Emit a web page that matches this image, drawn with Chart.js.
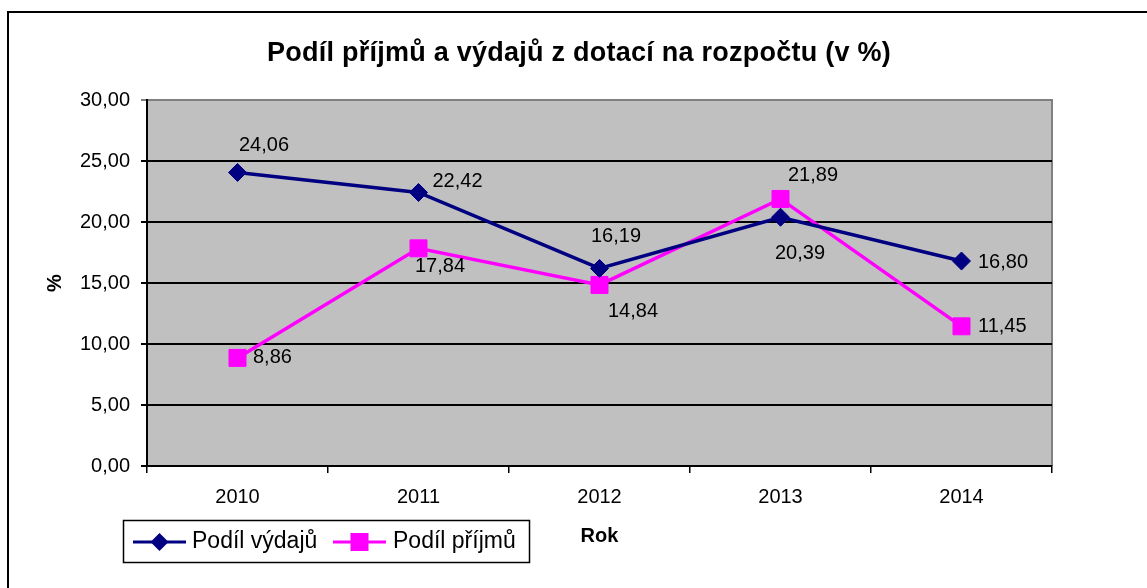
<!DOCTYPE html>
<html><head><meta charset="utf-8">
<script src="https://cdn.jsdelivr.net/npm/chart.js@4/dist/chart.umd.min.js"></script>
<style>html,body{margin:0;padding:0;background:#fff;overflow:hidden}canvas{display:block}</style>
</head><body>
<canvas id="c" width="1147" height="588"></canvas>
<script>
const chartTitle = 'Podíl příjmů a výdajů z dotací na rozpočtu (v %)';
const categories = ['2010', '2011', '2012', '2013', '2014'];
const seriesNames = ['Podíl výdajů', 'Podíl příjmů'];
const vydaje = [24.06, 22.42, 16.19, 20.39, 16.80];
const prijmy = [8.86, 17.84, 14.84, 21.89, 11.45];
const yTickLabels = ['0,00', '5,00', '10,00', '15,00', '20,00', '25,00', '30,00'];
const xAxisTitle = 'Rok';
const yAxisTitle = '%';

// data label placement (style): [dx to left edge of text, dy to text middle]
const labelOffsets = [
  [[1.5, -27], [14, -11], [-8.5, -31.5], [-5.5, 36], [16.5, 1]],
  [[15.5, 0], [-3.5, 18], [8.5, 27], [7.5, -23], [16.5, 0]]
];
const FONT = "'Liberation Sans', Arial, sans-serif";
Chart.defaults.font.family = FONT;
Chart.defaults.color = '#000';

const fmt = v => v.toFixed(2).replace('.', ',');

const decor = {
  id: 'decor',
  beforeDraw(chart) {
    const {ctx, chartArea: a} = chart;
    ctx.save();
    ctx.fillStyle = '#fff';
    ctx.fillRect(0, 0, chart.width, chart.height);
    ctx.fillStyle = '#C0C0C0';
    ctx.fillRect(a.left, a.top, a.right - a.left, a.bottom - a.top);
    ctx.strokeStyle = '#808080';
    ctx.lineWidth = 2;
    ctx.beginPath();
    ctx.moveTo(a.left, a.top);
    ctx.lineTo(a.right, a.top);
    ctx.lineTo(a.right, a.bottom);
    ctx.stroke();
    ctx.restore();
  },
  afterDatasetsDraw(chart) {
    const ctx = chart.ctx;
    ctx.save();
    ctx.font = '20px ' + FONT;
    ctx.fillStyle = '#000';
    ctx.textAlign = 'left';
    ctx.textBaseline = 'middle';
    chart.data.datasets.forEach((ds, di) => {
      const meta = chart.getDatasetMeta(di);
      meta.data.forEach((pt, i) => {
        const [dx, dy] = labelOffsets[di][i];
        ctx.fillText(fmt(ds.data[i]), pt.x + dx, pt.y + dy);
      });
    });
    ctx.restore();
  },
  afterDraw(chart) {
    const ctx = chart.ctx;
    ctx.save();
    // outer border
    ctx.strokeStyle = '#000';
    ctx.lineWidth = 2;
    ctx.strokeRect(8, 12, 1300, 800);
    // title
    ctx.font = 'bold 27px ' + FONT;
    ctx.letterSpacing = '0.25px';
    ctx.textAlign = 'center';
    ctx.textBaseline = 'alphabetic';
    ctx.fillStyle = '#000';
    ctx.fillText(chartTitle, 579, 61);
    ctx.letterSpacing = '0px';
    // legend
    ctx.lineWidth = 1.5;
    ctx.strokeStyle = '#000';
    ctx.strokeRect(123.5, 520.5, 406, 42);
    const items = [
      {x0: 133, x1: 186, color: '#000080', shape: 'diamond', tx: 192},
      {x0: 333, x1: 386, color: '#FF00FF', shape: 'square', tx: 393}
    ];
    const ly = 542;
    items.forEach((it, k) => {
      ctx.strokeStyle = it.color;
      ctx.fillStyle = it.color;
      ctx.lineWidth = 3;
      ctx.beginPath();
      ctx.moveTo(it.x0, ly);
      ctx.lineTo(it.x1, ly);
      ctx.stroke();
      const cx = (it.x0 + it.x1) / 2;
      ctx.beginPath();
      if (it.shape === 'diamond') {
        ctx.moveTo(cx - 9, ly); ctx.lineTo(cx, ly - 9); ctx.lineTo(cx + 9, ly); ctx.lineTo(cx, ly + 9);
        ctx.closePath();
      } else {
        ctx.rect(cx - 9, ly - 9, 18, 18);
      }
      ctx.fill();
      ctx.fillStyle = '#000';
      ctx.font = '23px ' + FONT;
      ctx.textAlign = 'left';
      ctx.textBaseline = 'alphabetic';
      ctx.fillText(seriesNames[k], it.tx, 548);
    });
    ctx.restore();
  }
};

new Chart(document.getElementById('c'), {
  type: 'line',
  data: {
    labels: categories,
    datasets: [
      {
        label: seriesNames[0], data: vydaje,
        borderColor: '#000080', backgroundColor: '#000080',
        borderWidth: 3.5, tension: 0,
        pointStyle: 'rectRot', pointRadius: 9, pointBorderWidth: 1,
        pointBackgroundColor: '#000080', pointBorderColor: '#000080'
      },
      {
        label: seriesNames[1], data: prijmy,
        borderColor: '#FF00FF', backgroundColor: '#FF00FF',
        borderWidth: 3.5, tension: 0,
        pointStyle: 'rect', pointRadius: 12, pointBorderWidth: 1,
        pointBackgroundColor: '#FF00FF', pointBorderColor: '#FF00FF'
      }
    ]
  },
  options: {
    responsive: false,
    animation: false,
    devicePixelRatio: 1,
    layout: {padding: {left: 9, right: 95, top: 100, bottom: 0}},
    plugins: {
      legend: {display: false},
      title: {display: false},
      tooltip: {enabled: false}
    },
    scales: {
      x: {
        type: 'category',
        offset: true,
        grid: {display: true, drawOnChartArea: false, drawTicks: true, tickLength: 7, color: '#000', lineWidth: 1.5, offset: true},
        border: {color: '#000', width: 2},
        ticks: {color: '#000', font: {size: 20}, padding: 12, maxRotation: 0, autoSkip: false},
        title: {display: true, text: xAxisTitle, color: '#000', font: {size: 20, weight: 'bold'}, padding: {top: 0, bottom: 40}},
        afterFit(s) { s.height = 122; }
      },
      y: {
        min: 0, max: 30,
        grid: {
          color: c => (c.tick && c.tick.value === 30) ? '#808080' : '#000',
          lineWidth: 2, tickLength: 6, drawTicks: true
        },
        border: {color: '#000', width: 2},
        ticks: {stepSize: 5, color: '#000', font: {size: 20}, padding: 11,
          callback: (v, i) => yTickLabels[i]},
        title: {display: true, text: yAxisTitle, color: '#000', font: {size: 20, weight: 'bold'}, padding: {top: 34, bottom: 0}},
        afterFit(s) { s.width = 138; }
      }
    }
  },
  plugins: [decor]
});
</script>
</body></html>
